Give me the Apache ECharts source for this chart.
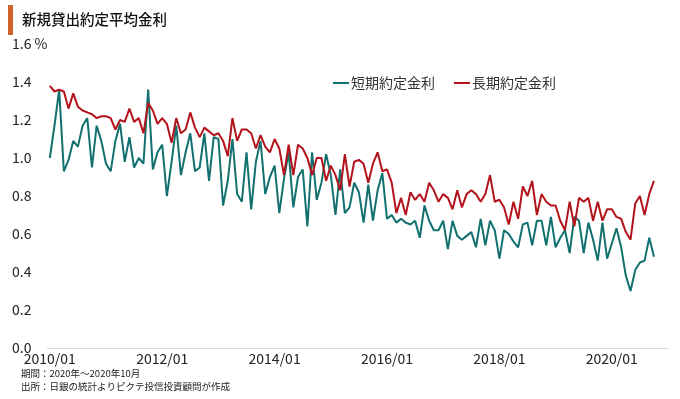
<!DOCTYPE html>
<html><head><meta charset="utf-8">
<script src="https://cdn.jsdelivr.net/npm/echarts@6/dist/echarts.min.js"></script>
<style>html,body{margin:0;padding:0;background:#fff}#c{width:680px;height:399px}</style>
</head><body><div id="c"></div>
<script>
// 2010/01 .. 2020/10 monthly
const startYear = 2010, nMonths = 130;
const categories = [];
for (let i = 0; i < nMonths; i++) {
  const y = startYear + Math.floor(i / 12), m = (i % 12) + 1;
  categories.push(y + '/' + (m < 10 ? '0' + m : m));
}
const shortRate = [1.00,1.17,1.36,0.93,0.99,1.09,1.06,1.17,1.21,0.95,1.17,1.09,0.97,0.93,1.09,1.18,0.98,1.11,0.95,1.00,
0.97,1.36,0.94,1.03,1.07,0.80,0.98,1.17,0.91,1.03,1.13,0.93,0.95,1.13,0.88,1.11,1.10,0.75,0.88,1.10,
0.81,0.77,1.03,0.73,0.98,1.09,0.81,0.90,0.96,0.71,0.89,1.03,0.74,0.90,0.94,0.64,1.03,0.78,0.87,1.02,
0.91,0.70,0.94,0.71,0.74,0.87,0.82,0.66,0.86,0.67,0.83,0.92,0.68,0.70,0.66,0.68,0.66,0.65,0.67,0.58,
0.75,0.67,0.62,0.62,0.67,0.52,0.67,0.59,0.57,0.59,0.61,0.53,0.68,0.54,0.67,0.62,0.47,0.62,0.60,0.56,
0.53,0.65,0.66,0.54,0.67,0.67,0.54,0.69,0.53,0.58,0.62,0.50,0.69,0.67,0.50,0.66,0.57,0.46,0.66,0.47,
0.55,0.63,0.53,0.38,0.30,0.41,0.45,0.46,0.58,0.48];
const longRate = [1.38,1.35,1.36,1.35,1.26,1.34,1.27,1.25,1.24,1.23,1.21,1.22,1.22,1.21,1.15,1.20,1.19,1.26,1.19,1.21,
1.13,1.29,1.25,1.18,1.21,1.18,1.08,1.21,1.13,1.15,1.24,1.16,1.11,1.16,1.14,1.12,1.13,1.09,1.01,1.21,
1.09,1.15,1.15,1.13,1.05,1.12,1.06,1.03,1.10,1.05,0.91,1.07,0.91,1.07,1.05,1.00,0.91,1.00,1.00,0.88,
0.96,0.91,0.83,1.02,0.85,0.98,0.99,0.97,0.87,0.97,1.03,0.93,0.94,0.87,0.71,0.79,0.70,0.82,0.78,0.81,
0.77,0.87,0.83,0.77,0.81,0.79,0.73,0.83,0.74,0.81,0.83,0.81,0.77,0.81,0.91,0.77,0.78,0.74,0.65,0.77,
0.68,0.85,0.80,0.88,0.70,0.81,0.77,0.75,0.75,0.67,0.62,0.77,0.64,0.79,0.77,0.79,0.67,0.77,0.67,0.73,
0.73,0.69,0.68,0.61,0.57,0.76,0.80,0.70,0.81,0.88];
const xTickIdx = [0,24,48,72,96,120];
const seriesNames = ['短期約定金利','長期約定金利'];
const colors = ['#12706f','#b3141c'];

const chart = echarts.init(document.getElementById('c'), null, {renderer:'canvas'});
const toPairs = arr => arr.map((v,i)=>[i,v]);
const fontFam = '"Noto Sans CJK JP", "Noto Sans", sans-serif';
chart.setOption({
  animation:false,
  textStyle:{fontFamily:fontFam},
  grid:{left:47,right:12,top:44,bottom:51,containLabel:false},
  graphic:[
    {type:'rect',left:8,top:5,shape:{width:5,height:30},style:{fill:'#d2622b'}},
    {type:'text',left:22,top:12,style:{text:'新規貸出約定平均金利',font:'500 14.5px '+fontFam,fill:'#111'}},
    {type:'text',left:21,top:369,style:{text:'期間：2020年～2020年10月',font:'9.5px '+fontFam,fill:'#222'}},
    {type:'text',left:21,top:382,style:{text:'出所：日銀の統計よりピクテ投信投資顧問が作成',font:'9.5px '+fontFam,fill:'#222'}}
  ],
  legend:{left:328,top:71,itemWidth:16,itemHeight:2,itemGap:19,icon:'rect',
    textStyle:{fontSize:14,color:'#333',padding:[0,0,0,-3]},data:seriesNames},
  xAxis:{type:'value',min:-0.6,max:132,
    axisLine:{show:true,lineStyle:{color:'#d9d9d9',width:1}},
    axisTick:{show:false},splitLine:{show:false},
    axisLabel:{customValues:xTickIdx,margin:4,fontSize:14,color:'#222',
      formatter:v=>categories[Math.round(v)]||''}},
  yAxis:{type:'value',min:0,max:1.6,interval:0.2,
    axisLine:{show:false},axisTick:{show:false},splitLine:{show:false},
    axisLabel:{align:'left',margin:35,fontSize:14,color:'#222',
      formatter:v=>Math.abs(v-1.6)<1e-6?'1.6 %':v.toFixed(1)}},
  series:[
    {name:seriesNames[0],type:'line',data:toPairs(shortRate),showSymbol:false,symbol:'none',
      lineStyle:{color:colors[0],width:2},itemStyle:{color:colors[0]}},
    {name:seriesNames[1],type:'line',data:toPairs(longRate),showSymbol:false,symbol:'none',
      lineStyle:{color:colors[1],width:2},itemStyle:{color:colors[1]}}
  ]
});
</script></body></html>
